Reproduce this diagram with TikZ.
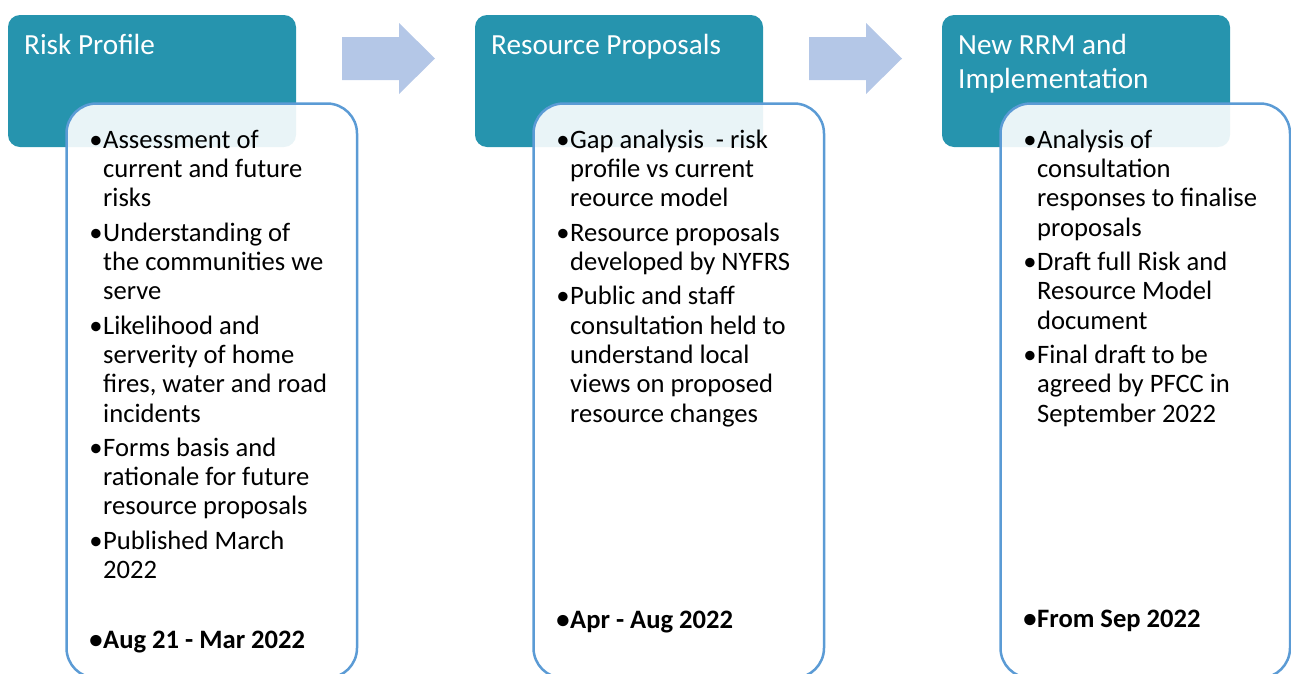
\documentclass[tikz,border=0pt]{standalone}
\usepackage{fontspec}
\setmainfont{Carlito}
\definecolor{teal1}{RGB}{38,148,174}
\definecolor{bordblue}{RGB}{91,155,213}
\definecolor{arrowblue}{RGB}{180,199,231}
\tikzset{
  head/.style={fill=teal1,draw=none,rounded corners=12pt},
  card/.style={fill=white,fill opacity=0.9,draw=bordblue,draw opacity=1,line width=2.5pt,rounded corners=30pt},
  flow/.style={fill=arrowblue,draw=none},
  titletxt/.style={anchor=base west,inner sep=0pt,text=white,font=\fontsize{29.2}{34}\selectfont},
  bodytxt/.style={anchor=base west,inner sep=0pt,text=black,font=\fontsize{26.6}{29}\selectfont},
  boldtxt/.style={bodytxt,font=\fontsize{26.6}{29}\selectfont\bfseries},
}
\newcommand\bl[4]{\node[bodytxt] (#1) at (#2,#3) {#4};}
\newcommand\bul{\llap{•\hspace{0.5pt}}}
\begin{document}
\begin{tikzpicture}[x=1pt,y=-1pt]
\path[use as bounding box] (0,0) rectangle (1291,673);
\clip (0,0) rectangle (1291,673);
% header boxes
\path[head] (8,15) rectangle (296,147);
\path[head] (475,15) rectangle (763,147);
\path[head] (942,15) rectangle (1230,147);
% arrows
\path[flow] (342,37) -- (399,37) -- (399,23) -- (435,58.5) -- (399,94) -- (399,80) -- (342,80) -- cycle;
\path[flow] (809,37) -- (866,37) -- (866,23) -- (902,58.5) -- (866,94) -- (866,80) -- (809,80) -- cycle;
% cards
\draw[card] (66.5,103.5) rectangle (357,678);
\draw[card] (533.5,103.5) rectangle (824,678);
\draw[card] (1000.5,103.5) rectangle (1290,678);
% titles
\node[titletxt] (t1) at (24,54) {Risk Profile};
\node[titletxt] (t2) at (491,54) {Resource Proposals};
\node[titletxt] (t3a) at (958,54) {New RRM and};
\node[titletxt] (t3b) at (958,88) {Implementation};
% panel 1
\bl{a1}{103}{148.3}{\bul Assessment of}
\bl{a2}{103}{177.6}{current and future}
\bl{a3}{103}{206.9}{risks}
\bl{a4}{103}{241.2}{\bul Understanding of}
\bl{a5}{103}{270.5}{the communities we}
\bl{a6}{103}{299.8}{serve}
\bl{a7}{103}{334.1}{\bul Likelihood and}
\bl{a8}{103}{363.4}{serverity of home}
\bl{a9}{103}{392.7}{fires, water and road}
\bl{a10}{103}{422.0}{incidents}
\bl{a11}{103}{456.3}{\bul Forms basis and}
\bl{a12}{103}{485.6}{rationale for future}
\bl{a13}{103}{514.9}{resource proposals}
\bl{a14}{103}{549.2}{\bul Published March}
\bl{a15}{103}{578.5}{2022}
\node[boldtxt] (a16) at (103,648) {\bul Aug 21 - Mar 2022};
% panel 2
\bl{b1}{570}{148.3}{\bul Gap analysis\ \ - risk}
\bl{b2}{570}{177.6}{profile vs current}
\bl{b3}{570}{206.9}{reource model}
\bl{b4}{570}{241.2}{\bul Resource proposals}
\bl{b5}{570}{270.5}{developed by NYFRS}
\bl{b6}{570}{304.8}{\bul Public and staff}
\bl{b7}{570}{334.1}{consultation held to}
\bl{b8}{570}{363.4}{understand local}
\bl{b9}{570}{392.7}{views on proposed}
\bl{b10}{570}{422.0}{resource changes}
\node[boldtxt] (b11) at (570,628) {\bul Apr - Aug 2022};
% panel 3
\bl{c1}{1037}{148.3}{\bul Analysis of}
\bl{c2}{1037}{177.6}{consultation}
\bl{c3}{1037}{206.9}{responses to finalise}
\bl{c4}{1037}{236.2}{proposals}
\bl{c5}{1037}{270.5}{\bul Draft full Risk and}
\bl{c6}{1037}{299.8}{Resource Model}
\bl{c7}{1037}{329.1}{document}
\bl{c8}{1037}{363.4}{\bul Final draft to be}
\bl{c9}{1037}{392.7}{agreed by PFCC in}
\bl{c10}{1037}{422.0}{September 2022}
\node[boldtxt] (c11) at (1037,627) {\bul From Sep 2022};
\end{tikzpicture}
\end{document}
